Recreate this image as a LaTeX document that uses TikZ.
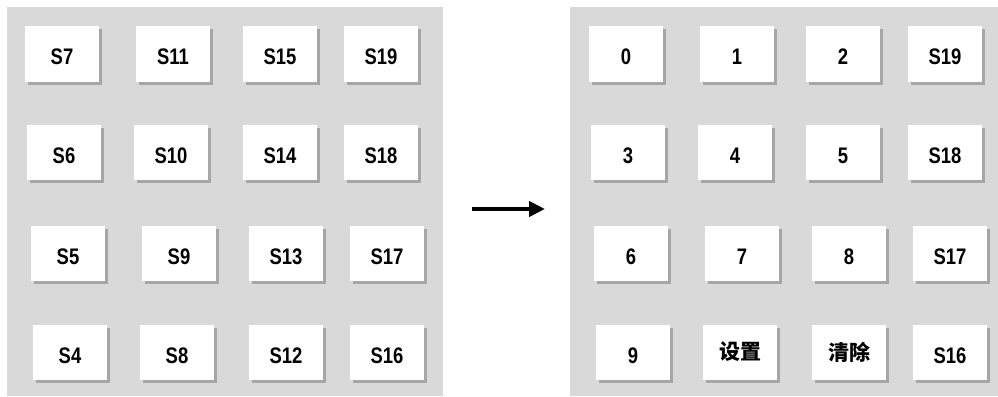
\documentclass[tikz,border=0pt]{standalone}
\usepackage{fontspec}
\newfontfamily\keyfont[FakeStretch=0.82]{Liberation Sans}
\newfontfamily\cjk{Noto Sans CJK SC}
\usetikzlibrary{shadows,arrows.meta}
\definecolor{panelgray}{HTML}{D9D9D9}
\definecolor{shadowgray}{HTML}{A6A6A6}
\tikzset{
  keybox/.style={
    fill=white, inner sep=0pt,
    minimum width=74pt, minimum height=55pt,
    drop shadow={shadow xshift=3pt, shadow yshift=-3pt,
                 fill=shadowgray, opacity=1}
  },
  key/.style={keybox, font=\keyfont\bfseries\fontsize{22.5}{22.5}\selectfont,
    text height=22pt, text depth=0pt},
  cnkey/.style={keybox, font=\cjk\bfseries\fontsize{21}{21}\selectfont},
  panel/.style={fill=panelgray}
}

\begin{document}
\begin{tikzpicture}[x=1pt,y=-1pt]
\useasboundingbox (0,0) rectangle (998,396);

% the two key panels
\fill[panel] (7,7) rectangle (443,396);
\fill[panel] (570,7) rectangle (998,396);

% left panel: raw keys
\node[key] (s7)  at (62,54)  {S7};
\node[key] (s11) at (173,54) {S11};
\node[key] (s15) at (280,54) {S15};
\node[key] (s19) at (381,54) {S19};
\node[key] (s6)  at (64,152)  {S6};
\node[key] (s10) at (171,152) {S10};
\node[key] (s14) at (280,152) {S14};
\node[key] (s18) at (381,152) {S18};
\node[key] (s5)  at (68,253)  {S5};
\node[key] (s9)  at (179,253) {S9};
\node[key] (s13) at (286,253) {S13};
\node[key] (s17) at (387,253) {S17};
\node[key] (s4)  at (70,352)  {S4};
\node[key] (s8)  at (177,352) {S8};
\node[key] (s12) at (286,352) {S12};
\node[key] (s16) at (387,352) {S16};

% right panel: assigned keys
\node[key] (k0)  at (626,54) {0};
\node[key] (k1)  at (737,54) {1};
\node[key] (k2)  at (843,54) {2};
\node[key] (r19) at (945,54) {S19};
\node[key] (k3)  at (628,152) {3};
\node[key] (k4)  at (735,152) {4};
\node[key] (k5)  at (843,152) {5};
\node[key] (r18) at (945,152) {S18};
\node[key] (k6)  at (631,253) {6};
\node[key] (k7)  at (742,253) {7};
\node[key] (k8)  at (849,253) {8};
\node[key] (r17) at (950,253) {S17};
\node[key] (k9)  at (633,352) {9};
\node[cnkey] (kset) at (740,352) {设置};
\node[cnkey] (kclr) at (849,352) {清除};
\node[key] (r16) at (950,352) {S16};

% arrow between panels
\coordinate (arrfrom) at (472,209);
\coordinate (arrto) at (545,209);
\draw[line width=4pt, -{Triangle[length=16pt,width=15pt]}] (arrfrom) -- (arrto);
\end{tikzpicture}
\end{document}
